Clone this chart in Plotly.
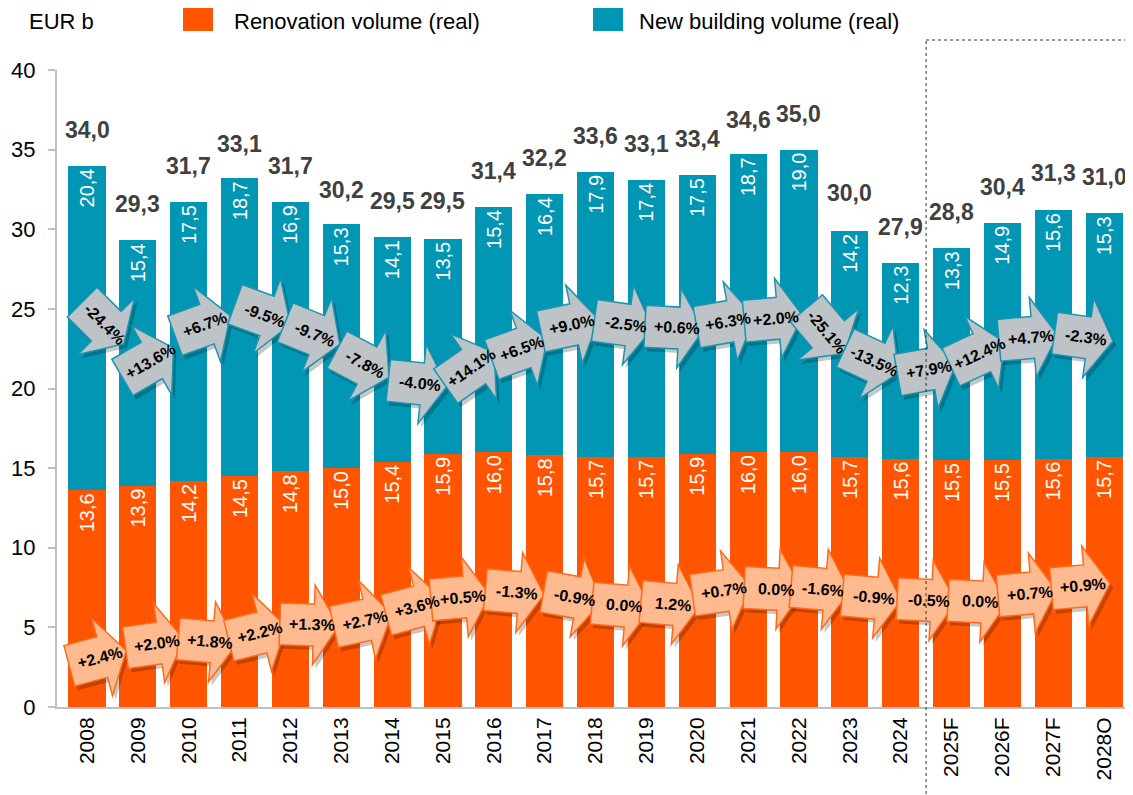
import math
import plotly.graph_objects as go

# ---------------- data ----------------
years = ["2008", "2009", "2010", "2011", "2012", "2013", "2014", "2015", "2016",
         "2017", "2018", "2019", "2020", "2021", "2022", "2023", "2024",
         "2025F", "2026F", "2027F", "2028O"]
renovation = [13.6, 13.9, 14.2, 14.5, 14.8, 15.0, 15.4, 15.9, 16.0, 15.8, 15.7,
              15.7, 15.9, 16.0, 16.0, 15.7, 15.6, 15.5, 15.5, 15.6, 15.7]
new_building = [20.4, 15.4, 17.5, 18.7, 16.9, 15.3, 14.1, 13.5, 15.4, 16.4, 17.9,
                17.4, 17.5, 18.7, 19.0, 14.2, 12.3, 13.3, 14.9, 15.6, 15.3]
totals = [34.0, 29.3, 31.7, 33.1, 31.7, 30.2, 29.5, 29.5, 31.4, 32.2, 33.6,
          33.1, 33.4, 34.6, 35.0, 30.0, 27.9, 28.8, 30.4, 31.3, 31.0]
new_building_change = ["-24.4%", "+13.6%", "+6.7%", "-9.5%", "-9.7%", "-7.8%", "-4.0%",
                       "+14.1%", "+6.5%", "+9.0%", "-2.5%", "+0.6%", "+6.3%", "+2.0%",
                       "-25.1%", "-13.5%", "+7.9%", "+12.4%", "+4.7%", "-2.3%"]
renovation_change = ["+2.4%", "+2.0%", "+1.8%", "+2.2%", "+1.3%", "+2.7%", "+3.6%",
                     "+0.5%", "-1.3%", "-0.9%", "0.0%", "1.2%", "+0.7%", "0.0%",
                     "-1.6%", "-0.9%", "-0.5%", "0.0%", "+0.7%", "+0.9%"]

# ---------------- layout constants (positions / styles) ----------------
OFF = 8                       # page body margin of the html page
PAGE_W, PAGE_H = 1133, 795
W, H = PAGE_W - OFF, PAGE_H - OFF
PLOT_L, PLOT_R, PLOT_T, PLOT_B = 57, 1130, 70, 707   # in page pixels
ML = PLOT_L - OFF
MT = PLOT_T - OFF
MR = W - (PLOT_R - OFF)
MB = H - (PLOT_B - OFF)
X0, X1 = -0.59, 20.51
Y0, Y1 = 0, 40
PXX = (PLOT_R - PLOT_L) / (X1 - X0)
PXY = (PLOT_B - PLOT_T) / (Y1 - Y0)

ORANGE = "#FF5500"
TEAL = "#0096B4"

# arrow placement (centre x in category units, centre y in axis units, tilt in degrees)
gray_pos_x = [0.35, 1.24, 2.32, 3.50, 4.48, 5.47, 6.55, 7.57, 8.55, 9.54, 10.60,
              11.60, 12.61, 13.55, 14.55, 15.48, 16.56, 17.56, 18.56, 19.65]
gray_pos_y = [24.0, 21.7, 24.0, 24.6, 23.4, 21.5, 20.3, 21.3, 22.5, 24.0, 24.0,
              23.8, 24.2, 24.4, 23.5, 21.7, 21.2, 22.2, 23.2, 23.2]
gray_tilt = [45, -30, -20, 20, 22, 28, 6, -35, -20, -12, 8, 3, -10, -5, 50, 25,
             -10, -25, -5, 8]
orange_pos_x = [0.26, 1.38, 2.42, 3.40, 4.42, 5.47, 6.49, 7.39, 8.46, 9.60, 10.56,
                11.52, 12.53, 13.55, 14.47, 15.48, 16.56, 17.56, 18.54, 19.59]
orange_pos_y = [3.1, 4.0, 4.1, 4.65, 5.15, 5.45, 6.3, 6.9, 7.2, 6.9, 6.35, 6.45,
                7.3, 7.4, 7.4, 6.85, 6.7, 6.6, 7.15, 7.6]
orange_tilt = [-15, -8, 5, -14, 2, -12, -15, -5, 5, 10, 5, 5, -8, 3, 5, 5, 3, 3, -5, -5]

ARROW = [(-32, -21), (2, -21), (2, -40), (27, 0), (2, 40), (2, 21), (-32, 21)]


def arrow_path(xc, yc, ang, dx=0, dy=0):
    t = math.radians(ang)
    c, s = math.cos(t), math.sin(t)
    pts = []
    for px, py in ARROW:
        rx = px * c - py * s + dx
        ry = px * s + py * c + dy
        pts.append((xc + rx / PXX, yc - ry / PXY))
    return "M " + " L ".join(f"{x:.4f},{y:.4f}" for x, y in pts) + " Z"


def fmt(v):
    return f"{v:.1f}".replace(".", ",")


xs = list(range(len(years)))

fig = go.Figure()
fig.add_trace(go.Bar(
    x=xs, y=renovation, name="Renovation volume (real)", marker_color=ORANGE,
    marker_line_width=0,
    text=[fmt(v) for v in renovation], textposition="inside", insidetextanchor="end",
    textangle=-90, textfont=dict(color="white", size=20, family="Liberation Sans, Arial"),
    hoverinfo="skip"))
fig.add_trace(go.Bar(
    x=xs, y=new_building, name="New building volume (real)", marker_color=TEAL,
    marker_line_width=0,
    text=[fmt(v) for v in new_building], textposition="inside", insidetextanchor="end",
    textangle=-90, textfont=dict(color="white", size=20, family="Liberation Sans, Arial"),
    hoverinfo="skip"))

shapes = []
annotations = []

# totals above bars
for i, t in enumerate(totals):
    annotations.append(dict(
        x=xs[i], y=t, text=f"<b>{fmt(t)}</b>", showarrow=False, yanchor="bottom",
        yshift=21, font=dict(size=23, color="#404040",
                             family="Liberation Sans Narrow, Arial Narrow, Liberation Sans")))


def add_arrows(px_, py_, tilt, labels, fill, line):
    for i in range(len(labels)):
        shapes.append(dict(type="path", path=arrow_path(px_[i], py_[i], tilt[i], 3, 4),
                           xref="x", yref="y", fillcolor="rgba(0,0,0,0.22)",
                           line=dict(width=0), layer="above"))
        shapes.append(dict(type="path", path=arrow_path(px_[i], py_[i], tilt[i]),
                           xref="x", yref="y", fillcolor=fill,
                           line=dict(color=line, width=1.5), layer="above"))
        annotations.append(dict(
            x=px_[i], y=py_[i], text=f"<b>{labels[i]}</b>", showarrow=False,
            textangle=tilt[i], font=dict(size=16, color="black", family="Liberation Sans, Arial")))


add_arrows(gray_pos_x, gray_pos_y, gray_tilt, new_building_change, "#BEC3C7", "#1995B2")
add_arrows(orange_pos_x, orange_pos_y, orange_tilt, renovation_change, "#FFBA90", "#FF6A1A")


def px_to_paper_x(p):
    return (p - PLOT_L) / (PLOT_R - PLOT_L)


def px_to_paper_y(p):
    return (PLOT_B - p) / (PLOT_B - PLOT_T)


# forecast box (dotted)
top_paper = px_to_paper_y(40)
bottom_paper = px_to_paper_y(PAGE_H + 5)
shapes.append(dict(type="line", xref="x", yref="paper", x0=16.5, x1=16.5,
                   y0=bottom_paper, y1=top_paper, line=dict(color="#333333", width=1, dash="dot")))
shapes.append(dict(type="line", xref="x", yref="paper", x0=16.5, x1=X1 + 0.2,
                   y0=top_paper, y1=top_paper, line=dict(color="#333333", width=1, dash="dot")))

# custom legend
LEG_Y = 22
for (x0p, x1p, col, tx, label) in [(183, 213, ORANGE, 232, "Renovation volume (real)"),
                                   (593, 623, TEAL, 637, "New building volume (real)")]:
    shapes.append(dict(type="rect", xref="paper", yref="paper",
                       x0=px_to_paper_x(x0p), x1=px_to_paper_x(x1p),
                       y0=px_to_paper_y(31), y1=px_to_paper_y(8),
                       fillcolor=col, line=dict(width=0)))
    annotations.append(dict(xref="paper", yref="paper", x=px_to_paper_x(tx),
                            y=px_to_paper_y(LEG_Y), xanchor="left", yanchor="middle",
                            text=label, showarrow=False,
                            font=dict(size=22, color="black")))
annotations.append(dict(xref="paper", yref="paper", x=px_to_paper_x(27),
                        y=px_to_paper_y(LEG_Y), xanchor="left", yanchor="middle",
                        text="EUR b", showarrow=False, font=dict(size=22, color="black")))

fig.update_layout(
    width=W, height=H,
    margin=dict(l=ML, r=MR, t=MT, b=MB, pad=0),
    barmode="stack", bargap=0.27,
    plot_bgcolor="white", paper_bgcolor="white",
    showlegend=False,
    font=dict(family="Liberation Sans, Arial, sans-serif", color="black"),
    shapes=shapes, annotations=annotations,
    xaxis=dict(range=[X0, X1], tickmode="array", tickvals=xs, ticktext=years,
               tickangle=-90, tickfont=dict(size=21), showgrid=False, zeroline=False,
               showline=True, linecolor="#BFBFBF", linewidth=2, ticks=""),
    yaxis=dict(range=[Y0, Y1], tickvals=list(range(0, 41, 5)), tickfont=dict(size=22),
               showgrid=False, zeroline=False, showline=True, linecolor="#BFBFBF",
               linewidth=2, ticks="outside", ticklen=7, tickcolor="#BFBFBF", tickwidth=1.5,
               ticklabelstandoff=8),
)

fig.write_html("out.html")
